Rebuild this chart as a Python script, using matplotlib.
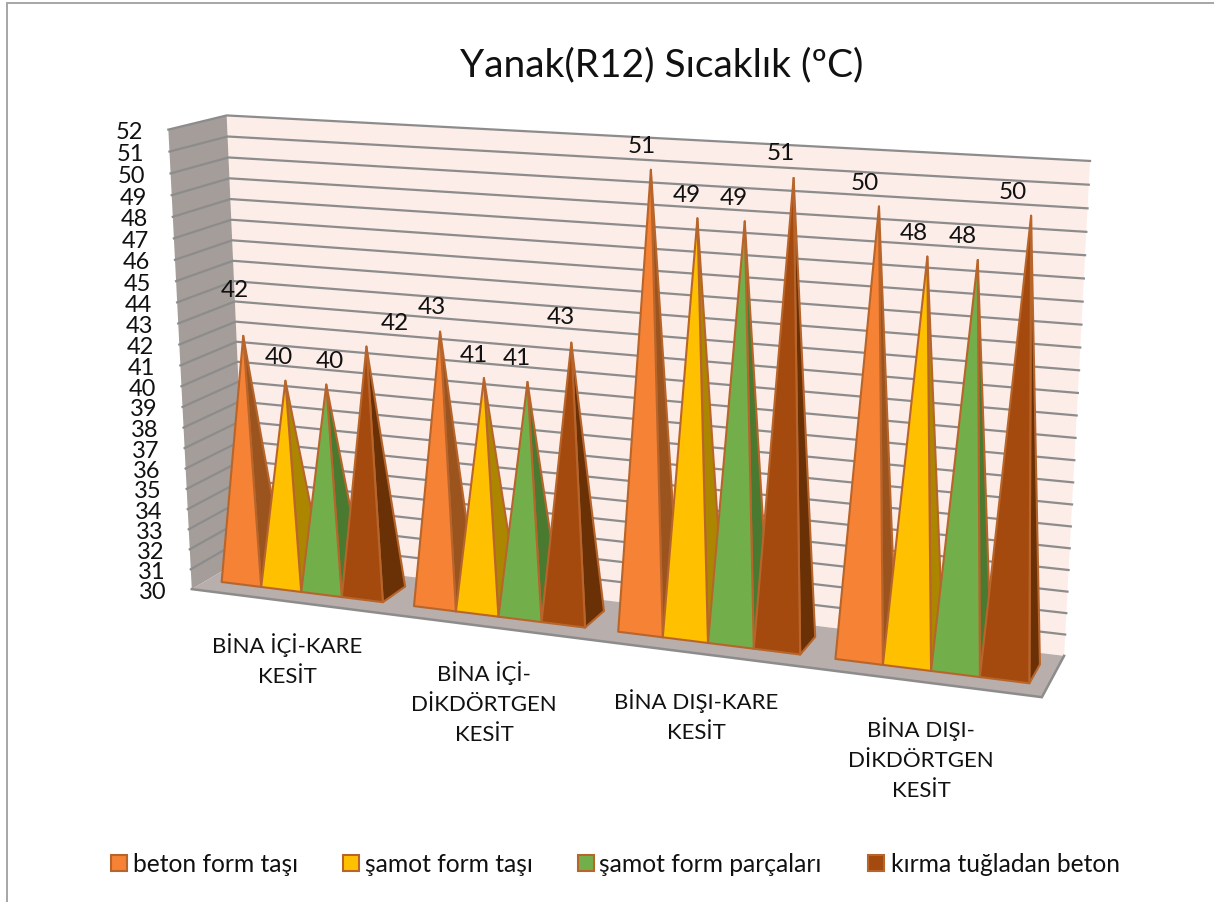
import numpy as np
import matplotlib
matplotlib.use('Agg')
import matplotlib.pyplot as plt
from matplotlib.patches import Polygon, Rectangle
plt.rcParams['font.family'] = ['Lato', 'DejaVu Sans']

title = 'Yanak(R12) Sıcaklık (ºC)'
categories = ['BİNA İÇİ-KARE\nKESİT', 'BİNA İÇİ-\nDİKDÖRTGEN\nKESİT',
              'BİNA DIŞI-KARE\nKESİT', 'BİNA DIŞI-\nDİKDÖRTGEN\nKESİT']
series = ['beton form taşı', 'şamot form taşı', 'şamot form parçaları', 'kırma tuğladan beton']
beton_form = [42, 43, 51, 50]
samot_form = [40, 41, 49, 48]
samot_parca = [40, 41, 49, 48]
kirma_tugla = [42, 43, 51, 50]
all_values = [beton_form, samot_form, samot_parca, kirma_tugla]

front_colors = ['#F58235', '#FFC000', '#72AF4A', '#A44A0E']
side_colors = ['#9C541F', '#AD8600', '#4A7A30', '#6B3106']
edge_color = '#B8652C'

# pixel offsets of the value labels from each pyramid's tip, series by series
label_dx = [[-8, -8, -9, -14], [-7, -10, -11, -14], [4, -11, -11, -15], [28, -10, -13, -18]]
label_dy = [[-46, -25, -24, -24], [-24, -24, -24, -24], [-24, -24, -24, -24], [-24, -26, -25, -24]]
cat_xy = [(287, 660), (484, 703), (696, 716), (921, 759)]
legend_x = [(111, 133), (343, 365), (578, 599), (868, 891)]

V0, V1 = 30, 52
# camera calibration: chart box corners -> pixels
world = np.array([[0,0,0],[1,0,0],[1,0,1],[0,0,1],[0,1,1],[1,1,1],[0,1,0]], float)
image = np.array([[192,589],[1042,699],[1064,656],[246,559],[227,116],[1090,162],[168,131]], float)
A = []
for (X, Y, Z), (x, y) in zip(world, image):
    h = [X, Y, Z, 1]
    A.append(h + [0, 0, 0, 0] + [-x*c for c in h])
    A.append([0, 0, 0, 0] + h + [-y*c for c in h])
P = np.linalg.svd(np.array(A))[2][-1].reshape(3, 4)

def proj(u, val, d):
    q = P @ np.array([u, (val - V0) / (V1 - V0), d, 1.0])
    return q[:2] / q[2]

fig = plt.figure(figsize=(12.14, 9.03), dpi=100)
ax = fig.add_axes([0, 0, 1, 1])
ax.set_xlim(0, 1214); ax.set_ylim(903, 0); ax.axis('off')

# chart border
ax.plot([6.5, 6.5, 1214], [903, 3.5, 3.5], color='#A6A6A6', lw=1.4, solid_joinstyle='miter')

# walls and floor
ax.add_patch(Polygon([proj(0,V0,1), proj(1,V0,1), proj(1,V1,1), proj(0,V1,1)], fc='#FDEDE8', ec='none', zorder=1))
ax.add_patch(Polygon([proj(0,V0,0), proj(0,V0,1), proj(0,V1,1), proj(0,V1,0)], fc='#A59D99', ec='none', zorder=1))
ax.add_patch(Polygon([proj(0,V0,0), proj(1,V0,0), proj(1,V0,1), proj(0,V0,1)], fc='#B8AEAC', ec='none', zorder=1))
for v in range(V0 + 1, V1 + 1):
    a, b, c = proj(0,v,0), proj(0,v,1), proj(1,v,1)
    ax.plot([a[0],b[0],c[0]], [a[1],b[1],c[1]], color='#8C8C8C', lw=1.6, solid_joinstyle='miter', zorder=2)
a, b, c = proj(0,V0,0), proj(1,V0,0), proj(1,V0,1)
ax.plot([a[0],b[0],c[0]], [a[1],b[1],c[1]], color='#8C8C8C', lw=1.8, solid_joinstyle='miter', zorder=2)

# tick labels
for v in range(V0, V1 + 1):
    x, y = proj(0, v, 0)
    ax.text(x - 25, y + 2, str(v), ha='right', va='center', fontsize=17, color='#111111')

# pyramids
w = 0.25 / 4.75
d0, d1 = 0.27, 0.73
tips = []
z = 3
for c in range(4):
    for s in range(4):
        val = all_values[s][c]
        u0 = c * 0.25 + 0.375 * w + s * w
        u1 = u0 + w
        tip = proj((u0 + u1) / 2, val, (d0 + d1) / 2)
        fl, fr, br = proj(u0, V0, d0), proj(u1, V0, d0), proj(u1, V0, d1)
        ax.add_patch(Polygon([fr, br, tip], fc=side_colors[s], ec=edge_color, lw=1.5, joinstyle='round', zorder=z))
        ax.add_patch(Polygon([fl, fr, tip], fc=front_colors[s], ec=edge_color, lw=1.5, joinstyle='round', zorder=z + 0.5))
        z += 1
        tips.append((tip, val, s, c))
for tip, val, s, c in tips:
    ax.text(tip[0] + label_dx[s][c], tip[1] + label_dy[s][c], str(val),
            ha='center', va='center', fontsize=17.5, color='#111111', zorder=40)

# category labels
for (x, y), lab in zip(cat_xy, categories):
    ax.text(x, y, lab, ha='center', va='center', fontsize=16, color='#111111', linespacing=1.6, zorder=40)

ax.text(662, 65, title, ha='center', va='center', fontsize=28, color='#111111')

# legend
for (bx, tx), name, col in zip(legend_x, series, front_colors):
    ax.add_patch(Rectangle((bx, 856), 16, 16, fc=col, ec=edge_color, lw=1.5))
    ax.text(tx, 865, name, ha='left', va='center', fontsize=17.7, color='#111111')

fig.savefig('out.png', dpi=100)
